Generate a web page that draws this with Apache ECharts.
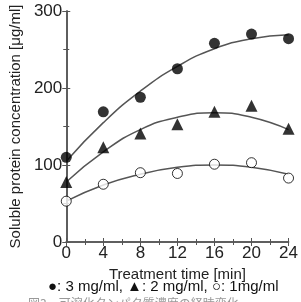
<!DOCTYPE html>
<html>
<head>
<meta charset="utf-8">
<script src="https://cdn.jsdelivr.net/npm/echarts@6/dist/echarts.min.js"></script>
<style>
  html, body { margin: 0; padding: 0; background: #fff; }
  #main { width: 301px; height: 302px; }
</style>
</head>
<body>
<div id="main"></div>
<script>
// treatment time [min]
var times = [0, 4, 8, 12, 16, 20, 24];
// measured points
var conc3 = [110, 169, 188, 225, 258, 270, 264];
var conc2 = [78, 123, 141, 153, 169, 177, 147];
var conc1 = [53, 75, 90, 89, 101, 103, 83];
// fitted curves
var fit3 = [105, 155, 196, 228, 251, 264, 269];
var fit2 = [78, 117, 146, 162, 168, 162, 146];
var fit1 = [53, 74, 88, 97, 100, 97, 88];

function pairs(ys) {
  return times.map(function (t, i) { return [t, ys[i]]; });
}

var myChart = echarts.init(document.getElementById('main'));
var font = 'Liberation Sans, Arial, sans-serif';
var axisLine = { lineStyle: { color: '#555', width: 1.5 } };
var tick = { inside: true, length: 4, lineStyle: { color: '#555' } };
var minor = { show: true, splitNumber: 2, length: 3, lineStyle: { color: '#555' } };

function fitLine(ys) {
  return {
    type: 'line', data: pairs(ys), smooth: true, symbol: 'none',
    lineStyle: { color: '#555', width: 1.5 }, z: 2, silent: true
  };
}

var option = {
  animation: false,
  grid: { left: 62, right: 9, top: 11, bottom: 60 },
  xAxis: [{
    type: 'value', min: 0, max: 24, interval: 4,
    axisLine: axisLine, axisTick: tick, minorTick: minor,
    axisLabel: { color: '#222', fontSize: 17, fontFamily: font, margin: 3 },
    splitLine: { show: false },
    name: 'Treatment time [min]', nameLocation: 'middle', nameGap: 21,
    nameTextStyle: { color: '#222', fontSize: 15, fontFamily: font }
  }, {
    type: 'value', min: 0, max: 24, interval: 4, position: 'top',
    axisLine: axisLine, axisTick: tick, minorTick: minor,
    axisLabel: { show: false }, splitLine: { show: false }
  }],
  yAxis: [{
    type: 'value', min: 0, max: 300, interval: 100,
    axisLine: axisLine, axisTick: tick, minorTick: minor,
    axisLabel: { color: '#222', fontSize: 17, fontFamily: font, margin: 4 },
    splitLine: { show: false },
    name: 'Soluble protein concentration [\u03bcg/ml]', nameLocation: 'middle', nameGap: 43,
    nameTextStyle: { color: '#222', fontSize: 15, fontFamily: font }
  }, {
    type: 'value', min: 0, max: 300, interval: 100, position: 'right',
    axisLine: axisLine, axisTick: tick, minorTick: minor,
    axisLabel: { show: false }, splitLine: { show: false }
  }],
  series: [
    fitLine(fit3), fitLine(fit2), fitLine(fit1),
    { type: 'scatter', data: pairs(conc3), symbol: 'circle', symbolSize: 11,
      itemStyle: { color: '#000' }, z: 3 },
    { type: 'scatter', data: pairs(conc2), symbol: 'triangle', symbolSize: 12,
      itemStyle: { color: '#000' }, z: 3 },
    { type: 'scatter', data: pairs(conc1), symbol: 'circle', symbolSize: 10,
      itemStyle: { color: '#fff', borderColor: '#000', borderWidth: 1 }, z: 3 }
  ],
  graphic: [{
    type: 'text', left: 48, top: 279,
    style: { text: '\u25cf: 3 mg/ml, \u25b2: 2 mg/ml, \u25cb: 1mg/ml', fill: '#111', fontSize: 15, fontFamily: font }
  }, {
    type: 'text', left: 28, top: 297,
    style: { text: '\u56f33\u3000\u53ef\u6eb6\u5316\u30bf\u30f3\u30d1\u30af\u8cea\u6fc3\u5ea6\u306e\u7d4c\u6642\u5909\u5316', fill: '#999', fontSize: 12, fontFamily: 'Noto Sans CJK JP' }
  }]
};
myChart.setOption(option, true);
</script>
</body>
</html>
